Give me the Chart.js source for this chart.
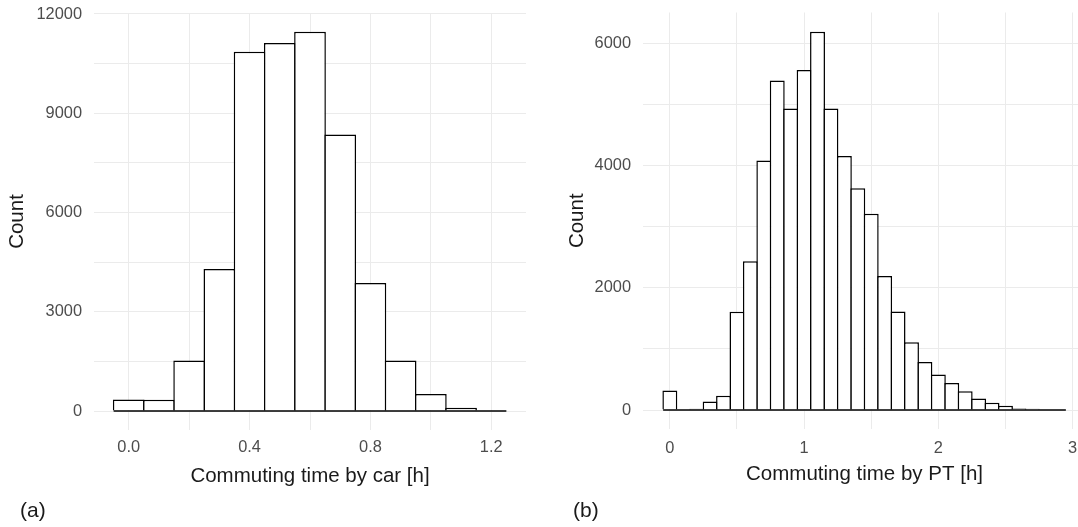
<!DOCTYPE html>
<html lang="en">
<head>
<meta charset="UTF-8">
<title>Commuting time histograms</title>
<script src="https://cdn.jsdelivr.net/npm/chart.js"></script>
<style>
  html, body { margin: 0; padding: 0; background: #fff; overflow: hidden; }
  body { width: 1078px; height: 527px; position: relative; font-family: "Liberation Sans", Arial, sans-serif; }
  canvas { position: absolute; top: 0; }
  #carChart { left: 0; }
  #ptChart { left: 540px; }
  .tag { position: absolute; top: 498px; font-size: 21px; line-height: 24px; color: #1a1a1a; }
</style>
</head>
<body>
<canvas id="carChart" width="540" height="527"></canvas>
<canvas id="ptChart" width="550" height="527"></canvas>
<div class="tag" style="left:20px">(a)</div>
<div class="tag" style="left:573px">(b)</div>

<script>
// (a) commuting time by car, bins of 0.1 h
const carBins = [0.0, 0.1, 0.2, 0.3, 0.4, 0.5, 0.6, 0.7, 0.8, 0.9, 1.0, 1.1, 1.2];
const carCounts = [350, 340, 1530, 4290, 10860, 11120, 11460, 8360, 3870, 1530, 515, 100, 0];
const carXTicks = [0.0, 0.4, 0.8, 1.2];
const carXGrid = [0.0, 0.2, 0.4, 0.6, 0.8, 1.0, 1.2];
const carYTicks = [0, 3000, 6000, 9000, 12000];
const carYGrid = [0, 1500, 3000, 4500, 6000, 7500, 9000, 10500, 12000];

// (b) commuting time by public transport, bins of 0.1 h
const ptBins = [0.0, 0.1, 0.2, 0.3, 0.4, 0.5, 0.6, 0.7, 0.8, 0.9,
                1.0, 1.1, 1.2, 1.3, 1.4, 1.5, 1.6, 1.7, 1.8, 1.9,
                2.0, 2.1, 2.2, 2.3, 2.4, 2.5, 2.6, 2.7, 2.8, 2.9];
const ptCounts = [320, 0, 20, 140, 232, 1608, 2432, 4080, 5390, 4930,
                  5560, 6185, 4930, 4153, 3625, 3212, 2190, 1612, 1108, 785,
                  582, 442, 307, 190, 121, 71, 25, 22, 0, 0];
const ptXTicks = [0, 1, 2, 3];
const ptXGrid = [0, 0.5, 1, 1.5, 2, 2.5, 3];
const ptYTicks = [0, 2000, 4000, 6000];
const ptYGrid = [0, 1000, 2000, 3000, 4000, 5000, 6000];

const FONT = "'Liberation Sans', Arial, sans-serif";
const GRID = '#ebebeb';
const HALF_BIN = 0.05;

function histogram(id, bins, counts, o) {
  const near = (list, v) => list.some(t => Math.abs(t - v) < 1e-9);
  // keep label overhang from pushing the plot area around
  const noPad = a => { a.paddingTop = a.paddingBottom = a.paddingLeft = a.paddingRight = 0; };
  return new Chart(document.getElementById(id), {
    type: 'bar',
    data: {
      datasets: [
        {
          // baseline under all bins, empty ones included
          type: 'line',
          data: [{ x: bins[0] - HALF_BIN, y: 0 }, { x: bins[bins.length - 1] + HALF_BIN, y: 0 }],
          borderColor: '#000',
          borderWidth: 1.5,
          pointRadius: 0
        },
        {
          data: bins.map((b, i) => ({ x: b, y: counts[i] })),
          backgroundColor: '#fff',
          borderColor: '#000',
          borderWidth: 1.5,
          borderSkipped: 'start',
          categoryPercentage: 1,
          barPercentage: o.barPct
        }
      ]
    },
    options: {
      responsive: false,
      animation: false,
      layout: { padding: { top: o.padTop, right: o.padRight, left: 0, bottom: 0 } },
      plugins: { legend: { display: false }, tooltip: { enabled: false } },
      scales: {
        x: {
          type: 'linear',
          offset: false,
          min: o.xMin,
          max: o.xMax,
          border: { display: false },
          grid: { color: GRID, offset: false, drawTicks: false },
          afterBuildTicks: a => { a.ticks = o.xGrid.map(v => ({ value: v })); },
          afterFit: a => { a.height = o.xAxisH; noPad(a); },
          ticks: {
            autoSkip: false,
            maxRotation: 0,
            padding: o.xTickPad,
            color: '#4d4d4d',
            font: { family: FONT, size: 16.4 },
            callback: v => near(o.xTicks, v) ? v.toFixed(o.xDec) : ''
          },
          title: {
            display: true,
            text: o.xTitle,
            color: '#1a1a1a',
            font: { family: FONT, size: 20.5 },
            padding: { top: 0, bottom: o.xTitlePad }
          }
        },
        y: {
          min: o.yMin,
          max: o.yMax,
          border: { display: false },
          grid: { color: GRID, drawTicks: false },
          afterBuildTicks: a => { a.ticks = o.yGrid.map(v => ({ value: v })); },
          afterFit: a => { a.width = o.yAxisW; noPad(a); },
          ticks: {
            autoSkip: false,
            padding: 12,
            color: '#4d4d4d',
            font: { family: FONT, size: 16.4 },
            callback: v => near(o.yTicks, v) ? String(v) : ''
          },
          title: {
            display: true,
            text: 'Count',
            color: '#1a1a1a',
            font: { family: FONT, size: 20.5 },
            padding: { top: o.yTitlePad, bottom: 0 }
          }
        }
      }
    }
  });
}

histogram('carChart', carBins, carCounts, {
  barPct: 1.05,
  padTop: 13, padRight: 14,
  xMin: -0.115, xMax: 1.315, yMin: -573, yMax: 12030,
  xTicks: carXTicks, xGrid: carXGrid, xDec: 1,
  yTicks: carYTicks, yGrid: carYGrid,
  xAxisH: 97, yAxisW: 94,
  xTickPad: 8, xTitlePad: 38.5, yTitlePad: 5.2,
  xTitle: 'Commuting time by car [h]'
});

histogram('ptChart', ptBins, ptCounts, {
  barPct: 1.112,
  padTop: 12.5, padRight: 4,
  xMin: -0.2, xMax: 3.1, yMin: -310, yMax: 6501,
  xTicks: ptXTicks, xGrid: ptXGrid, xDec: 0,
  yTicks: ptYTicks, yGrid: ptYGrid,
  xAxisH: 98, yAxisW: 103,
  xTickPad: 9.5, xTitlePad: 40, yTitlePad: 24.7,
  xTitle: 'Commuting time by PT [h]'
});
</script>
</body>
</html>
